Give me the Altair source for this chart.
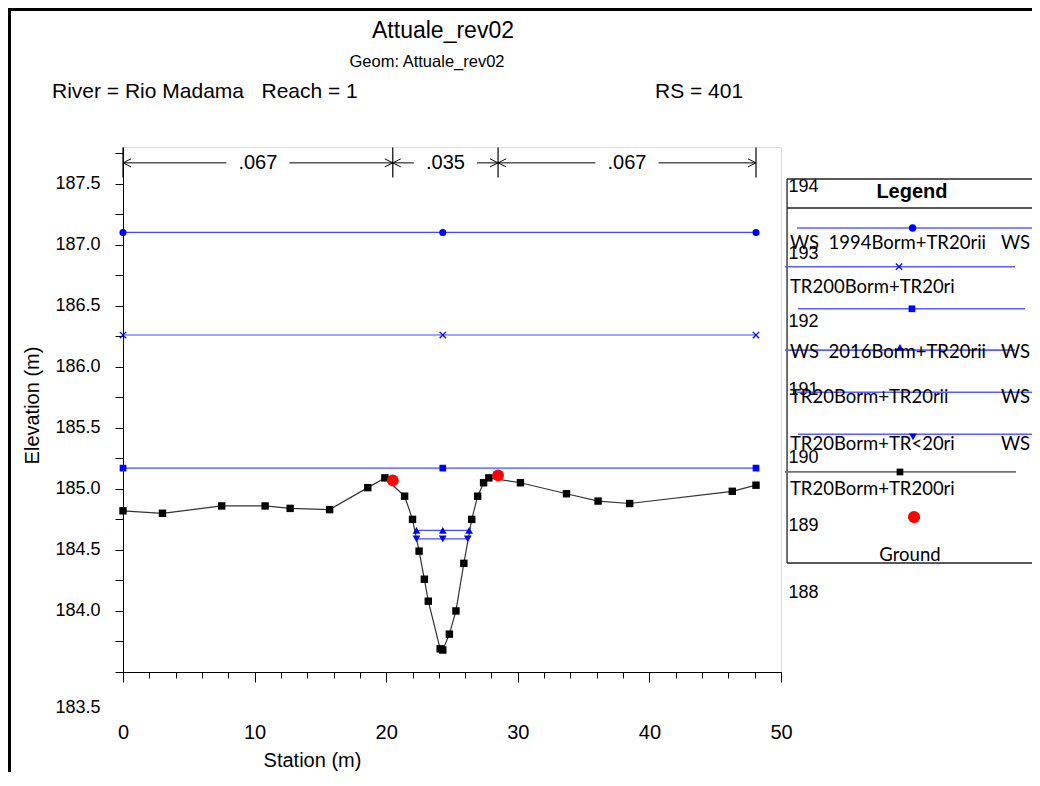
import altair as alt
import pandas as pd

# ---------------- data ----------------
ground_x = [0.0, 3.0, 7.5, 10.8, 12.7, 15.7, 18.6, 19.9, 21.4, 22.0, 22.5, 22.9,
            23.2, 24.1, 24.3, 24.8, 25.3, 25.9, 26.5, 26.95, 27.4, 27.8, 30.2,
            33.7, 36.1, 38.5, 46.3, 48.1]
ground_y = [184.82, 184.80, 184.86, 184.86, 184.84, 184.83, 185.01, 185.09,
            184.94, 184.75, 184.49, 184.26, 184.08, 183.69, 183.68, 183.81,
            184.00, 184.39, 184.75, 184.94, 185.05, 185.09, 185.05, 184.96,
            184.90, 184.88, 184.98, 185.03]
bank_x = [20.5, 28.5]
bank_y = [185.07, 185.11]

ws1_x = [0.0, 24.3, 48.1]
ws1_y = [187.10, 187.10, 187.10]
ws2_x = [0.0, 24.3, 48.1]
ws2_y = [186.26, 186.26, 186.26]
ws3_x = [0.0, 24.3, 48.1]
ws3_y = [185.17, 185.17, 185.17]
ws4_x = [22.3, 24.3, 26.3]
ws4_y = [184.66, 184.66, 184.66]
ws6_x = [22.3, 24.3, 26.2]
ws6_y = [184.59, 184.59, 184.59]

n_bounds = [0.0, 20.5, 28.5, 48.1]
n_labels = [".067", ".035", ".067"]

x_ticks = [0, 10, 20, 30, 40, 50]
x_minor = [0, 2, 4, 6, 8, 10, 12, 14, 16, 18, 20, 22, 24, 26, 28, 30, 32, 34,
           36, 38, 40, 42, 44, 46, 48, 50]
y_ticks = [183.5, 183.75, 184.0, 184.25, 184.5, 184.75, 185.0, 185.25, 185.5,
           185.75, 186.0, 186.25, 186.5, 186.75, 187.0, 187.25, 187.5, 187.75]
right_ticks = [188, 189, 190, 191, 192, 193, 194]

NB = "\u00a0"
leg_left_texts = ["WS" + NB * 2 + "1994Borm+TR20rii", "TR200Borm+TR20ri",
                  "WS" + NB * 2 + "2016Borm+TR20rii", "TR20Borm+TR20rii",
                  "TR20Borm+TR<20ri", "TR20Borm+TR200ri"]
leg_right_texts = ["WS", "WS", "WS", "WS"]

# ---------------- layout constants ----------------
BLUE_LINE = "#4a4aff"
BLUE = "#0000ff"
FONT = "Liberation Sans"
LFONT = "Lato"
W, H = 658, 525
PAD = {"left": 115, "top": 139, "right": 251, "bottom": 100}

XS = alt.Scale(domain=[0, 50], nice=False, zero=False)
YS = alt.Scale(domain=[183.5, 187.8], nice=False, zero=False)
LS = alt.Scale(domain=[186.835, 194.575], nice=False, zero=False)

xaxis = alt.Axis(values=x_ticks, tickSize=10, tickColor="black", domainColor="black",
                 labelPadding=40, labelFontSize=20, labelFont=FONT, labelColor="black",
                 labelFlush=False, grid=False, title="Station (m)", titleFont=FONT,
                 titleFontSize=20, titleFontWeight="normal", titleColor="black",
                 titleX=189, titleY=88, titleAlign="center", titleBaseline="middle",
                 titleAnchor="start")
yaxis = alt.Axis(values=y_ticks, tickSize=8, tickColor="black", domainColor="black",
                 labelPadding=15, labelFontSize=18, labelFont=FONT, labelColor="black",
                 labelFlush=False, labelOverlap=False, grid=False,
                 labelExpr="abs(datum.value*2 - round(datum.value*2)) < 0.001 ? format(datum.value, '.1f') : ''",
                 labelOffset={"condition": {"test": "datum.value == 183.5", "value": 35}, "value": 0},
                 title="Elevation (m)", titleFont=FONT, titleFontSize=20,
                 titleFontWeight="normal", titleColor="black",
                 titleX=-91, titleY=258, titleAlign="center", titleBaseline="middle",
                 titleAnchor="start")
laxis = alt.Axis(values=right_ticks, orient="right", ticks=False, domain=False, grid=False,
                 labelAlign="left", labelPadding=7, labelFontSize=18, labelFont=FONT,
                 labelColor="black", labelFlush=False, labelOverlap=False, title=None,
                 format="d")


def X(f):
    return alt.X(f, type="quantitative", scale=XS, axis=xaxis)


def Y(f):
    return alt.Y(f, type="quantitative", scale=YS, axis=yaxis)


def LX(f):
    return alt.X(f, type="quantitative", scale=XS, axis=None)


def LY(f):
    return alt.Y(f, type="quantitative", scale=LS, axis=laxis)


# ---------------- tables ----------------
ground = pd.DataFrame({"x": ground_x, "y": ground_y})
bank = pd.DataFrame({"x": bank_x, "y": bank_y})
ws_rows = []
for name, xs, ys in [("ws1", ws1_x, ws1_y), ("ws2", ws2_x, ws2_y), ("ws3", ws3_x, ws3_y),
                     ("ws4", ws4_x, ws4_y), ("ws6", ws6_x, ws6_y)]:
    for a, b in zip(xs, ys):
        ws_rows.append({"s": name, "x": a, "y": b})
ws = pd.DataFrame(ws_rows)

N_LINE_Y = 187.67
N_BAR = (187.55, 187.795)
GAP = 2.4
seg_rows, arrow_rows, lab_rows = [], [], []
for i, lab in enumerate(n_labels):
    a, b = n_bounds[i], n_bounds[i + 1]
    mid = (a + b) / 2
    seg_rows += [{"x": a, "x2": mid - GAP, "y": N_LINE_Y}, {"x": mid + GAP, "x2": b, "y": N_LINE_Y}]
    arrow_rows += [{"x": a, "y": N_LINE_Y, "d": "L"}, {"x": b, "y": N_LINE_Y, "d": "R"}]
    lab_rows.append({"x": mid, "y": N_LINE_Y, "t": lab})
segs = pd.DataFrame(seg_rows)
arrows = pd.DataFrame(arrow_rows)
nlabs = pd.DataFrame(lab_rows)
bars = pd.DataFrame({"x": n_bounds, "y": [N_BAR[0]] * 4, "y2": [N_BAR[1]] * 4})

one = pd.DataFrame({"a": [0]})

# ---------------- main plot ----------------
ws_lines = alt.Chart(ws).mark_line(color=BLUE_LINE, strokeWidth=1.2).encode(
    x=X("x"), y=Y("y"), detail="s:N")
g_line = alt.Chart(ground).mark_line(color="#333333", strokeWidth=1.2).encode(x=X("x"), y=Y("y"))
g_pts = alt.Chart(ground).mark_point(shape="square", filled=True, size=55, color="black",
                                     opacity=1).encode(x=X("x"), y=Y("y"))
b_pts = alt.Chart(bank).mark_point(shape="circle", filled=True, size=140, color="#ff0000",
                                   opacity=1).encode(x=X("x"), y=Y("y"))


def wsm(name, **kw):
    return alt.Chart(ws[ws.s == name]).mark_point(color=BLUE, opacity=1, **kw).encode(
        x=X("x"), y=Y("y"))


m1 = wsm("ws1", shape="circle", filled=True, size=50)
m2 = wsm("ws2", shape="M-1,-1L1,1M-1,1L1,-1", filled=False, size=40, strokeWidth=1.3)
m3 = wsm("ws3", shape="square", filled=True, size=45)
m4 = wsm("ws4", shape="triangle-up", filled=True, size=60)
m6 = wsm("ws6", shape="triangle-down", filled=True, size=60)

n_segs = alt.Chart(segs).mark_rule(color="black", strokeWidth=1).encode(
    x=X("x"), x2="x2", y=Y("y"))
n_bars = alt.Chart(bars).mark_rule(color="black", strokeWidth=1.2).encode(
    x=X("x"), y=Y("y"), y2="y2")
arr_l = alt.Chart(arrows[arrows.d == "L"]).mark_point(
    shape="M2,-1L0,0L2,1", filled=False, size=64, color="black", strokeWidth=1, opacity=1
).encode(x=X("x"), y=Y("y"))
arr_r = alt.Chart(arrows[arrows.d == "R"]).mark_point(
    shape="M-2,-1L0,0L-2,1", filled=False, size=64, color="black", strokeWidth=1, opacity=1
).encode(x=X("x"), y=Y("y"))
n_text = alt.Chart(nlabs).mark_text(font=FONT, fontSize=20, color="black",
                                    baseline="middle").encode(x=X("x"), y=Y("y"), text="t:N")

t1 = alt.Chart(one).mark_text(text="Attuale_rev02", font=FONT, fontSize=23, color="black",
                              align="center", baseline="middle").encode(
    x=alt.value(320), y=alt.value(-116))
t2 = alt.Chart(one).mark_text(text="Geom: Attuale_rev02", font=FONT, fontSize=16.5, color="black",
                              align="center", baseline="middle").encode(
    x=alt.value(304), y=alt.value(-85))
t3 = alt.Chart(one).mark_text(text="River = Rio Madama" + NB * 3 + "Reach = 1", font=FONT,
                              fontSize=21, color="black", align="left", baseline="middle").encode(
    x=alt.value(-71), y=alt.value(-55))
t4 = alt.Chart(one).mark_text(text="RS = 401", font=FONT, fontSize=21, color="black",
                              align="left", baseline="middle").encode(
    x=alt.value(532), y=alt.value(-55))
frame_l = alt.Chart(one).mark_rule(color="black", strokeWidth=3).encode(
    x=alt.value(-113.5), y=alt.value(-PAD["top"]), y2=alt.value(H + PAD["bottom"]))
frame_t = alt.Chart(one).mark_rule(color="black", strokeWidth=3).encode(
    x=alt.value(-PAD["left"]), x2=alt.value(W + PAD["right"]), y=alt.value(-137.5))

main = alt.layer(ws_lines, g_line, g_pts, b_pts, m1, m2, m3, m4, m6,
                 n_segs, n_bars, arr_l, arr_r, n_text, t1, t2, t3, t4, frame_l, frame_t)

# ---------------- legend (garbled, as in the source) ----------------
BOX_L, BOX_R = 50.46, 69.2
BOX_T, BOX_H, BOX_B = 194.103, 193.676, 188.442
box_h = pd.DataFrame({"x": [BOX_L] * 3, "x2": [BOX_R] * 3, "y": [BOX_T, BOX_H, BOX_B]})
box_v = pd.DataFrame({"x": [BOX_L], "y": [BOX_B], "y2": [BOX_T]})
leg_lines = pd.DataFrame({
    "x": [51.22, 50.30, 51.29, 50.30, 51.22, 51.29],
    "x2": [69.2, 67.78, 68.54, 67.78, 69.2, 69.2],
    "y": [193.38, 192.81, 192.19, 191.58, 190.96, 190.34]})
leg_gline = pd.DataFrame({"x": [50.30], "x2": [67.86], "y": [189.784]})
lt_left = pd.DataFrame({"x": [50.68] * 6, "y": [193.16, 192.51, 191.553, 190.889, 190.196, 189.533],
                        "t": leg_left_texts})
lt_right = pd.DataFrame({"x": [68.92] * 4, "y": [193.16, 191.553, 190.889, 190.196],
                         "t": leg_right_texts})

lb_h = alt.Chart(box_h).mark_rule(color="#222222", strokeWidth=1.3).encode(x=LX("x"), x2="x2", y=LY("y"))
lb_v = alt.Chart(box_v).mark_rule(color="#222222", strokeWidth=1.3).encode(x=LX("x"), y=LY("y"), y2="y2")
l_title = alt.Chart(pd.DataFrame({"x": [59.95], "y": [193.91], "t": ["Legend"]})).mark_text(
    font=FONT, fontSize=20, fontWeight="bold", color="black", baseline="middle").encode(
    x=LX("x"), y=LY("y"), text="t:N")
l_lines = alt.Chart(leg_lines).mark_rule(color="#5c5cff", strokeWidth=1.6).encode(
    x=LX("x"), x2="x2", y=LY("y"))
l_gline = alt.Chart(leg_gline).mark_rule(color="#707070", strokeWidth=1.8).encode(
    x=LX("x"), x2="x2", y=LY("y"))


def lm(x, y, **kw):
    return alt.Chart(pd.DataFrame({"x": [x], "y": [y]})).mark_point(opacity=1, **kw).encode(
        x=LX("x"), y=LY("y"))


lm1 = lm(60.0, 193.38, shape="circle", filled=True, size=55, color=BLUE)
lm2 = lm(58.97, 192.81, shape="M-1,-1L1,1M-1,1L1,-1", filled=False, size=40, strokeWidth=1.3, color=BLUE)
lm3 = lm(59.95, 192.19, shape="square", filled=True, size=45, color=BLUE)
lm4 = lm(59.04, 191.62, shape="triangle-up", filled=True, size=60, color=BLUE)
lm6 = lm(60.03, 190.30, shape="triangle-down", filled=True, size=60, color=BLUE)
lm7 = lm(59.04, 189.784, shape="square", filled=True, size=45, color="black")
lm8 = lm(60.11, 189.12, shape="circle", filled=True, size=150, color="#ff0000")

l_tl = alt.Chart(lt_left).mark_text(font=LFONT, fontSize=18.5, color="black", align="left",
                                    baseline="middle").encode(x=LX("x"), y=LY("y"), text="t:N")
l_tr = alt.Chart(lt_right).mark_text(font=LFONT, fontSize=18.5, color="black", align="right",
                                     baseline="middle").encode(x=LX("x"), y=LY("y"), text="t:N")
l_ground = alt.Chart(pd.DataFrame({"x": [59.8], "y": [188.56], "t": ["Ground"]})).mark_text(
    font=LFONT, fontSize=18.5, color="black", baseline="middle").encode(
    x=LX("x"), y=LY("y"), text="t:N")

legend = alt.layer(lb_h, lb_v, l_title, l_lines, l_gline, lm1, lm2, lm3, lm4, lm6, lm7, lm8,
                   l_tl, l_tr, l_ground)

# ---------------- minor x ticks ----------------
xminor = alt.Chart(pd.DataFrame({"v": x_minor})).mark_point(opacity=0).encode(
    x=alt.X("v:Q", scale=XS, axis=alt.Axis(values=x_minor, tickSize=6, labels=False, domain=False,
                                           grid=False, title=None, orient="bottom",
                                           tickColor="black")))

# white strip over the page's right edge above the legend (keeps the edge clean)
cover = alt.Chart(one).mark_rule(color="white", strokeWidth=10).encode(
    x=alt.value(W + PAD["right"] - 5), y=alt.value(-PAD["top"] + 12), y2=alt.value(30))

chart = alt.layer(main, legend, xminor, cover).resolve_scale(y="independent").resolve_axis(
    x="independent", y="independent"
).properties(
    width=W, height=H,
    autosize=alt.AutoSizeParams(type="none"),
    padding=PAD,
    background="white",
).configure_view(stroke=None).configure(font=FONT)

chart.save("out.html", embed_options={"renderer": "svg", "actions": False})
